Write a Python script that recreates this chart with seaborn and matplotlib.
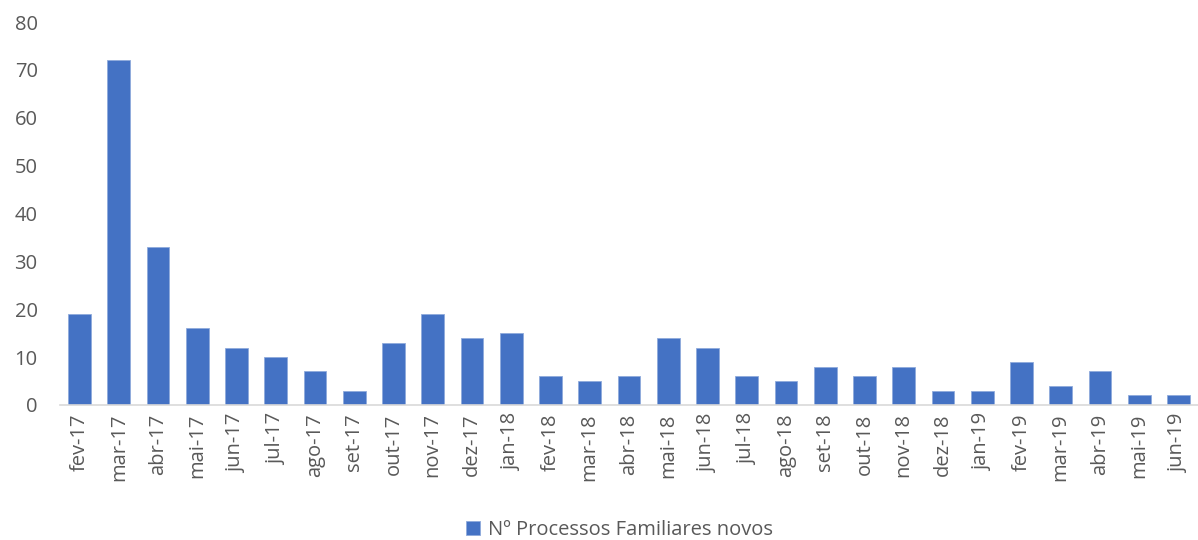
import matplotlib
matplotlib.use("Agg")
import matplotlib.pyplot as plt
import seaborn as sns
import pandas as pd

months = ["fev-17", "mar-17", "abr-17", "mai-17", "jun-17", "jul-17", "ago-17", "set-17",
          "out-17", "nov-17", "dez-17", "jan-18", "fev-18", "mar-18", "abr-18", "mai-18",
          "jun-18", "jul-18", "ago-18", "set-18", "out-18", "nov-18", "dez-18", "jan-19",
          "fev-19", "mar-19", "abr-19", "mai-19", "jun-19"]
novos = [19, 72, 33, 16, 12, 10, 7, 3, 13, 19, 14, 15, 6, 5, 6, 14, 12, 6, 5, 8, 6, 8,
         3, 3, 9, 4, 7, 2, 2]
series_name = "Nº Processos Familiares novos"

df = pd.DataFrame({"mes": months, "valor": novos, "serie": series_name})

sns.set_theme(style="white")
plt.rcParams["font.family"] = ["Open Sans", "DejaVu Sans"]

fig = plt.figure(figsize=(11.98, 5.40), dpi=100)
ax = fig.add_axes([0.050, 0.250, 0.950, 0.709])

sns.barplot(data=df, x="mes", y="valor", hue="serie", palette=["#4472C4"],
            saturation=1, width=0.58, edgecolor="#8FAADC", linewidth=0.6,
            ax=ax, legend=True)

ax.set_ylim(0, 80)
ax.set_yticks(range(0, 81, 10))
ax.set_xlim(-0.5, len(months) - 0.5)
ax.set_xlabel("")
ax.set_ylabel("")

for s in ["top", "right", "left"]:
    ax.spines[s].set_visible(False)
ax.spines["bottom"].set_color("#D9D9D9")
ax.spines["bottom"].set_linewidth(1.2)

ax.tick_params(axis="x", labelrotation=90, labelsize=14.5, colors="#595959", length=0, pad=6)
ax.tick_params(axis="y", labelsize=14.5, colors="#595959", length=0, pad=16)

ax.legend(loc="lower center", bbox_to_anchor=(0.492, -0.39), frameon=False,
          fontsize=14.5, handlelength=0.7, handleheight=0.7, handletextpad=0.4,
          labelcolor="#595959", ncol=1, borderpad=0.2)

fig.savefig("out.png", dpi=100)
